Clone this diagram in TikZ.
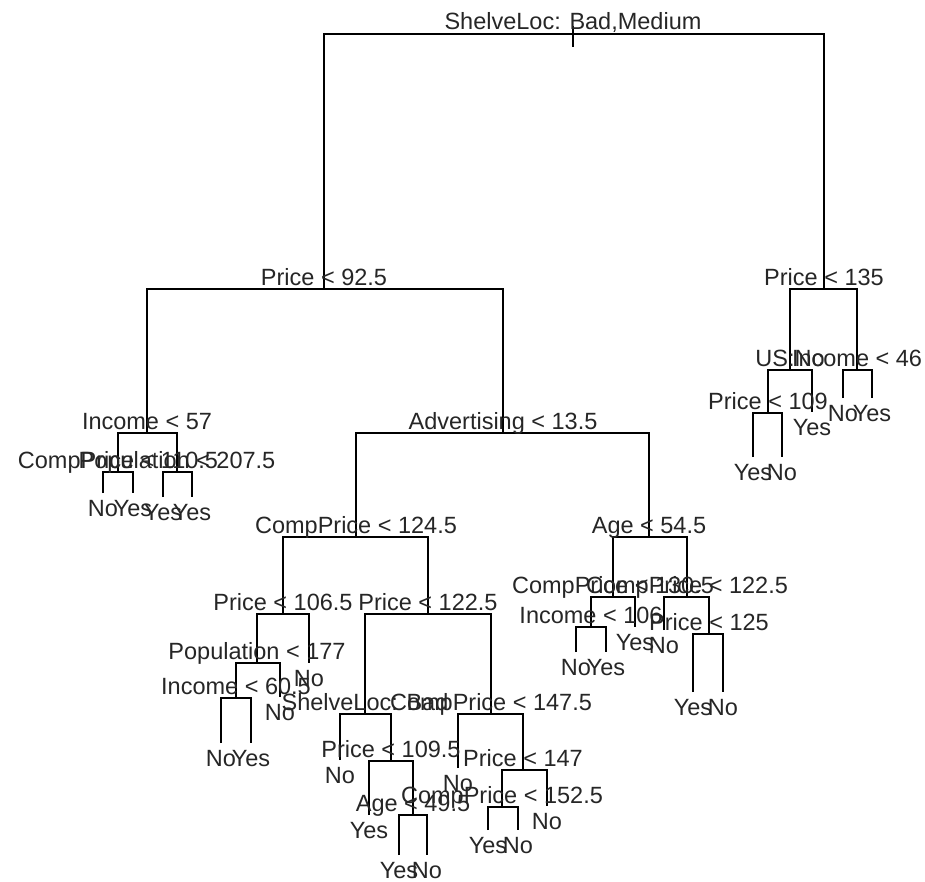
\documentclass[tikz,border=0pt]{standalone}
\usepackage{fontspec}
\setmainfont{Liberation Sans}
\usetikzlibrary{positioning}
\tikzset{branch/.style={black,line width=1.4pt}}
\tikzset{split/.style={anchor=base,yshift=4pt,inner sep=0pt,text=black!85,font=\fontsize{23.5}{28}\selectfont}}
\tikzset{leaf/.style={anchor=base,yshift=-23pt,inner sep=0pt,text=black!85,font=\fontsize{23.5}{28}\selectfont}}

\begin{document}
\begin{tikzpicture}[x=1pt,y=-1pt]
		\useasboundingbox (0,0) rectangle (925,882);
		% split points
		\coordinate (root) at (573,34);
		\coordinate (root-t) at (573,26);
		\coordinate (root-b) at (573,47);
		\coordinate (pr925) at (324,289);
		\coordinate (pr135) at (824,289);
		\coordinate (inc57) at (147,433);
		\coordinate (adv) at (503,433);
		\coordinate (cp1105) at (118,472);
		\coordinate (pop2075) at (177,472);
		\coordinate (cp1245) at (356,537);
		\coordinate (age545) at (649,537);
		\coordinate (pr1065) at (283,614);
		\coordinate (pr1225) at (428,614);
		\coordinate (pop177) at (257,663);
		\coordinate (inc605) at (236,698);
		\coordinate (slbad) at (365,714);
		\coordinate (cp1475) at (491,714);
		\coordinate (pr1095) at (391,761);
		\coordinate (age495) at (413,815);
		\coordinate (pr147) at (523,770);
		\coordinate (cp1525) at (502,807);
		\coordinate (cp1305) at (613,597);
		\coordinate (cp1225) at (687,597);
		\coordinate (inc106) at (591,627);
		\coordinate (pr125) at (709,634);
		\coordinate (usno) at (790,370);
		\coordinate (inc46) at (857,370);
		\coordinate (pr109) at (768,413);
		% leaves
		\coordinate (lf1) at (103,493);
		\coordinate (lf2) at (133,493);
		\coordinate (lf3) at (163,497);
		\coordinate (lf4) at (192,497);
		\coordinate (lf5) at (221,743);
		\coordinate (lf6) at (251,743);
		\coordinate (lf7) at (280,697);
		\coordinate (lf8) at (309,663);
		\coordinate (lf9) at (340,760);
		\coordinate (lf10) at (369,815);
		\coordinate (lf11) at (399,855);
		\coordinate (lf12) at (427,855);
		\coordinate (lf13) at (458,768);
		\coordinate (lf14) at (488,830);
		\coordinate (lf15) at (518,830);
		\coordinate (lf16) at (547,806);
		\coordinate (lf17) at (576,652);
		\coordinate (lf18) at (606,652);
		\coordinate (lf19) at (635,627);
		\coordinate (lf20) at (664,630);
		\coordinate (lf21) at (693,692);
		\coordinate (lf22) at (723,692);
		\coordinate (lf23) at (753,457);
		\coordinate (lf24) at (782,457);
		\coordinate (lf25) at (812,412);
		\coordinate (lf26) at (843,398);
		\coordinate (lf27) at (872,398);
		
		% branches
		\draw[branch] (root-t) -- (root-b);
		\draw[branch] (pr925) |- (root) -| (pr135);
		\draw[branch] (inc57) |- (pr925) -| (adv);
		\draw[branch] (cp1105) |- (inc57) -| (pop2075);
		\draw[branch] (lf1) |- (cp1105) -| (lf2);
		\draw[branch] (lf3) |- (pop2075) -| (lf4);
		\draw[branch] (cp1245) |- (adv) -| (age545);
		\draw[branch] (pr1065) |- (cp1245) -| (pr1225);
		\draw[branch] (pop177) |- (pr1065) -| (lf8);
		\draw[branch] (inc605) |- (pop177) -| (lf7);
		\draw[branch] (lf5) |- (inc605) -| (lf6);
		\draw[branch] (slbad) |- (pr1225) -| (cp1475);
		\draw[branch] (lf9) |- (slbad) -| (pr1095);
		\draw[branch] (lf10) |- (pr1095) -| (age495);
		\draw[branch] (lf11) |- (age495) -| (lf12);
		\draw[branch] (lf13) |- (cp1475) -| (pr147);
		\draw[branch] (cp1525) |- (pr147) -| (lf16);
		\draw[branch] (lf14) |- (cp1525) -| (lf15);
		\draw[branch] (cp1305) |- (age545) -| (cp1225);
		\draw[branch] (inc106) |- (cp1305) -| (lf19);
		\draw[branch] (lf17) |- (inc106) -| (lf18);
		\draw[branch] (lf20) |- (cp1225) -| (pr125);
		\draw[branch] (lf21) |- (pr125) -| (lf22);
		\draw[branch] (usno) |- (pr135) -| (inc46);
		\draw[branch] (pr109) |- (usno) -| (lf25);
		\draw[branch] (lf23) |- (pr109) -| (lf24);
		\draw[branch] (lf26) |- (inc46) -| (lf27);
		
		% split labels
		\node[split] (t-root) at (root) {ShelveLoc: Bad,Medium};
		\node[split] (t-pr925) at (pr925) {Price < 92.5};
		\node[split] (t-pr135) at (pr135) {Price < 135};
		\node[split] (t-inc57) at (inc57) {Income < 57};
		\node[split] (t-adv) at (adv) {Advertising < 13.5};
		\node[split] (t-cp1105) at (cp1105) {CompPrice < 110.5};
		\node[split] (t-pop2075) at (pop2075) {Population < 207.5};
		\node[split] (t-cp1245) at (cp1245) {CompPrice < 124.5};
		\node[split] (t-age545) at (age545) {Age < 54.5};
		\node[split] (t-pr1065) at (pr1065) {Price < 106.5};
		\node[split] (t-pr1225) at (pr1225) {Price < 122.5};
		\node[split] (t-pop177) at (pop177) {Population < 177};
		\node[split] (t-inc605) at (inc605) {Income < 60.5};
		\node[split] (t-slbad) at (slbad) {ShelveLoc: Bad};
		\node[split] (t-cp1475) at (cp1475) {CompPrice < 147.5};
		\node[split] (t-pr1095) at (pr1095) {Price < 109.5};
		\node[split] (t-age495) at (age495) {Age < 49.5};
		\node[split] (t-pr147) at (pr147) {Price < 147};
		\node[split] (t-cp1525) at (cp1525) {CompPrice < 152.5};
		\node[split] (t-cp1305) at (cp1305) {CompPrice < 130.5};
		\node[split] (t-cp1225) at (cp1225) {CompPrice < 122.5};
		\node[split] (t-inc106) at (inc106) {Income < 106};
		\node[split] (t-pr125) at (pr125) {Price < 125};
		\node[split] (t-usno) at (usno) {US:No};
		\node[split] (t-inc46) at (inc46) {Income < 46};
		\node[split] (t-pr109) at (pr109) {Price < 109};
		
		% leaf labels
		\node[leaf] (t-lf1) at (lf1) {No};
		\node[leaf] (t-lf2) at (lf2) {Yes};
		\node[leaf] (t-lf3) at (lf3) {Yes};
		\node[leaf] (t-lf4) at (lf4) {Yes};
		\node[leaf] (t-lf5) at (lf5) {No};
		\node[leaf] (t-lf6) at (lf6) {Yes};
		\node[leaf] (t-lf7) at (lf7) {No};
		\node[leaf] (t-lf8) at (lf8) {No};
		\node[leaf] (t-lf9) at (lf9) {No};
		\node[leaf] (t-lf10) at (lf10) {Yes};
		\node[leaf] (t-lf11) at (lf11) {Yes};
		\node[leaf] (t-lf12) at (lf12) {No};
		\node[leaf] (t-lf13) at (lf13) {No};
		\node[leaf] (t-lf14) at (lf14) {Yes};
		\node[leaf] (t-lf15) at (lf15) {No};
		\node[leaf] (t-lf16) at (lf16) {No};
		\node[leaf] (t-lf17) at (lf17) {No};
		\node[leaf] (t-lf18) at (lf18) {Yes};
		\node[leaf] (t-lf19) at (lf19) {Yes};
		\node[leaf] (t-lf20) at (lf20) {No};
		\node[leaf] (t-lf21) at (lf21) {Yes};
		\node[leaf] (t-lf22) at (lf22) {No};
		\node[leaf] (t-lf23) at (lf23) {Yes};
		\node[leaf] (t-lf24) at (lf24) {No};
		\node[leaf] (t-lf25) at (lf25) {Yes};
		\node[leaf] (t-lf26) at (lf26) {No};
		\node[leaf] (t-lf27) at (lf27) {Yes};
	\end{tikzpicture}
\end{document}
